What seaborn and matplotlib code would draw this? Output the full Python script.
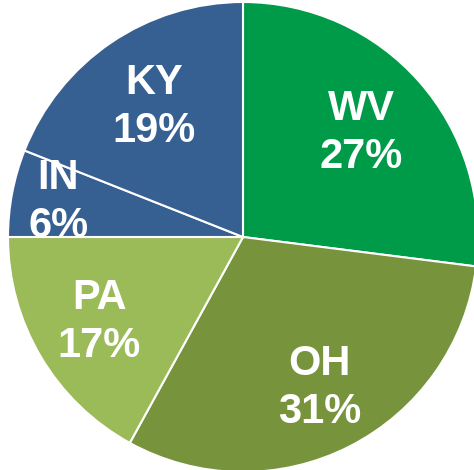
import numpy as np
import matplotlib
matplotlib.use("Agg")
import matplotlib.pyplot as plt
import seaborn as sns

states = ["WV", "OH", "PA", "IN", "KY"]
shares = [27, 31, 17, 6, 19]
colors = ["#009B48", "#77933C", "#9BBB59", "#376092", "#376092"]

# radial placement of each label as a fraction of the radius
label_r = [0.67, 0.72, 0.71, 0.80, 0.67]

sns.set_theme(style="white")
plt.rcParams["font.family"] = ["Liberation Sans", "DejaVu Sans"]

W, H = 474, 470
fig = plt.figure(figsize=(W / 100, H / 100), dpi=100)
ax = fig.add_axes([0, 0, 1, 1])

cx, cy, R = 243, H - 237, 235
wedges, _ = ax.pie(
    shares,
    colors=colors,
    startangle=90,
    counterclock=False,
    center=(cx, cy),
    radius=R,
    wedgeprops=dict(edgecolor="white", linewidth=1.5),
    frame=True,
)
ax.set_xlim(0, W)
ax.set_ylim(0, H)
ax.set_aspect("equal")
ax.axis("off")

for w, name, pct, f in zip(wedges, states, shares, label_r):
    mid = np.deg2rad((w.theta1 + w.theta2) / 2)
    x = cx + f * R * np.cos(mid)
    y = cy + f * R * np.sin(mid)
    ax.text(x, y, f"{name}\n{pct}%", ha="center", va="center",
            color="white", fontsize=30, fontweight="bold", linespacing=1.25)

fig.savefig("out.png", dpi=100)
